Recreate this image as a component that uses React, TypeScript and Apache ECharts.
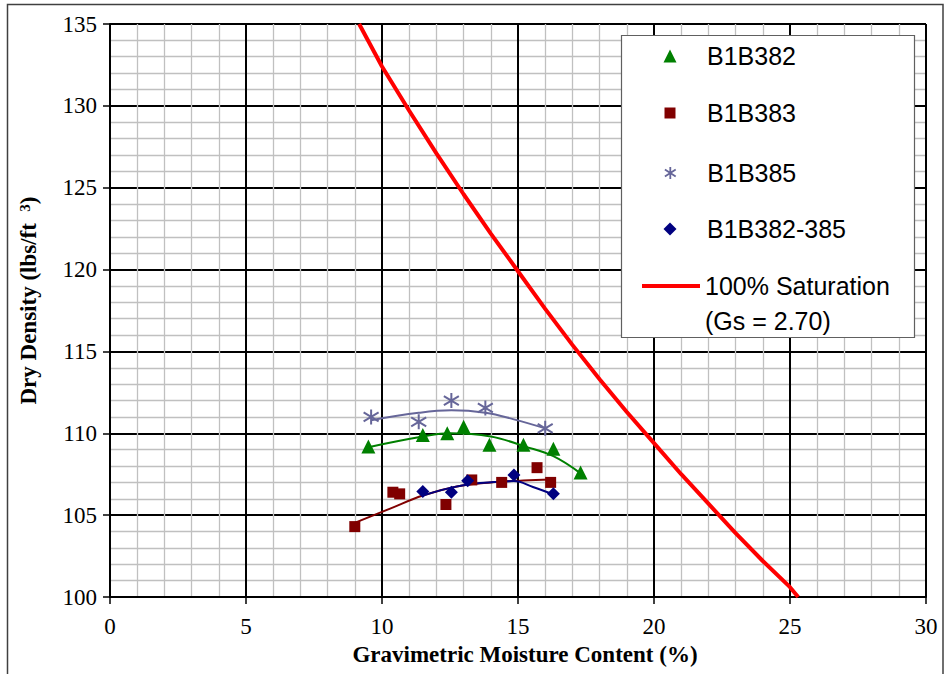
import React, { useEffect, useRef } from "react";
import * as echarts from "echarts";

// ---- data ----
const b382X = [9.5, 11.5, 12.4, 13.0, 13.95, 15.2, 16.3, 17.3];
const b382Y = [109.2, 109.9, 110.0, 110.4, 109.3, 109.3, 109.05, 107.6];
const b382TrendX = [9.5, 11.5, 12.5, 14.0, 15.25, 16.3, 17.3];
const b382TrendY = [109.15, 109.8, 110.0, 109.8, 109.2, 108.6, 107.55];

const b383X = [9.0, 10.4, 10.65, 12.35, 13.3, 14.4, 15.7, 16.2];
const b383Y = [104.3, 106.4, 106.3, 105.65, 107.15, 107.0, 107.9, 107.0];
const b383TrendX = [8.95, 10.3, 11.5, 12.75, 14.0, 15.2, 16.2];
const b383TrendY = [104.5, 105.4, 106.2, 106.75, 107.0, 107.12, 107.18];

const b385X = [9.6, 11.35, 12.55, 13.8, 16.0];
const b385Y = [111.0, 110.7, 112.0, 111.55, 110.3];
const b385TrendX = [9.6, 11.35, 12.55, 13.8, 14.85, 16.0];
const b385TrendY = [110.8, 111.25, 111.4, 111.25, 110.85, 110.3];

const bAllX = [11.5, 12.55, 13.15, 14.85, 16.3];
const bAllY = [106.45, 106.4, 107.1, 107.45, 106.3];
const bAllTrendX = [11.5, 12.55, 13.35, 14.1, 14.85, 15.55, 16.3];
const bAllTrendY = [106.2, 106.68, 106.92, 107.02, 107.08, 106.72, 106.27];

const satX = [9.16, 10, 11, 12, 13, 14, 15, 16, 17, 18, 19, 20, 21, 22, 23, 24, 25, 25.3];
const satY = [135, 132.4, 129.7, 127.1, 124.6, 122.2, 119.9, 117.6, 115.4, 113.3, 111.3, 109.4, 107.5, 105.7, 103.9, 102.2, 100.6, 100.0];

const seriesNames = ["B1B382", "B1B383", "B1B385", "B1B382-385", "100% Saturation (Gs = 2.70)"];
const xAxisTitle = "Gravimetric Moisture Content (%)";

const zip = (xs: number[], ys: number[]) => xs.map((x, i) => [x, ys[i]]);

const SERIF = "'Liberation Serif', 'Times New Roman', serif";
const SANS = "'Liberation Sans', Arial, sans-serif";
const ASTERISK = "path://M5,0L5,10M0.5,2L9.5,8M0.5,8L9.5,2";

export default function App() {
  const ref = useRef<HTMLDivElement>(null);
  useEffect(() => {
    if (!ref.current) return;
    const chart = echarts.init(ref.current, null, { renderer: "svg" });
    const symText = { fontFamily: SANS, fontSize: 25, color: "#000", lineHeight: 26 };
    const symLegend = (name: string, size: number, top: number, extra: any = {}) => ({
      orient: "vertical",
      left: 670 - size / 2,
      top,
      itemWidth: size,
      itemHeight: size,
      padding: 0,
      selectedMode: false,
      z: 8,
      data: [name],
      textStyle: { ...symText, padding: [0, 0, 6, 707 - (670 + size / 2) - 5] },
      ...extra,
    });
    const trend = (name: string, xs: number[], ys: number[], color: string) => ({
      name,
      type: "line",
      data: zip(xs, ys),
      smooth: 0.4,
      showSymbol: false,
      lineStyle: { color, width: 2 },
      z: 2,
      silent: true,
    });
    chart.setOption({
      animation: false,
      backgroundColor: "#fff",
      grid: { left: 110, top: 24, width: 816, height: 573 },
      xAxis: {
        type: "value",
        min: 0,
        max: 30,
        interval: 5,
        name: xAxisTitle,
        nameLocation: "middle",
        nameGap: 45,
        nameTextStyle: { fontFamily: SERIF, fontWeight: "bold", fontSize: 23, color: "#000", padding: [0, 0, 0, 14] },
        axisLine: { show: true, onZero: false, lineStyle: { color: "#000", width: 2 } },
        axisTick: { show: true, inside: false, length: 7, lineStyle: { color: "#000", width: 1.5 } },
        axisLabel: { fontFamily: SERIF, fontSize: 23, color: "#000", margin: 18 },
        splitLine: { show: true, lineStyle: { color: "#000", width: 2 } },
        minorTick: { show: false, splitNumber: 5 },
        minorSplitLine: { show: true, lineStyle: { color: "#c0c0c0", width: 1.3 } },
      },
      yAxis: {
        type: "value",
        min: 100,
        max: 135,
        interval: 5,
        name: "{a|Dry Density (lbs/ft  }{s|3}{a|)}",
        nameLocation: "middle",
        nameGap: 70,
        nameTextStyle: {
          fontFamily: SERIF,
          fontWeight: "bold",
          fontSize: 23,
          color: "#000",
          padding: [0, 0, 0, 20],
          rich: {
            a: { fontFamily: SERIF, fontWeight: "bold", fontSize: 23, color: "#000" },
            s: { fontFamily: SERIF, fontWeight: "bold", fontSize: 15, color: "#000", verticalAlign: "top" },
          },
        },
        axisLine: { show: true, onZero: false, lineStyle: { color: "#000", width: 2 } },
        axisTick: { show: true, inside: false, length: 7, lineStyle: { color: "#000", width: 1.5 } },
        axisLabel: { fontFamily: SERIF, fontSize: 23, color: "#000", margin: 13 },
        splitLine: { show: true, lineStyle: { color: "#000", width: 2 } },
        minorTick: { show: false, splitNumber: 5 },
        minorSplitLine: { show: true, lineStyle: { color: "#c0c0c0", width: 1.3 } },
      },
      legend: [
        symLegend(seriesNames[0], 13, 40),
        symLegend(seriesNames[1], 11, 97),
        symLegend(seriesNames[2], 12, 157, {
          itemStyle: { color: "rgba(0,0,0,0)", borderColor: "#666699", borderWidth: 1.8, opacity: 1 },
        }),
        symLegend(seriesNames[3], 13, 213),
        {
          orient: "vertical",
          left: 642,
          top: 229.5,
          itemWidth: 58,
          itemHeight: 4,
          icon: "rect",
          padding: 0,
          selectedMode: false,
          z: 8,
          data: [seriesNames[4]],
          formatter: () => " \n100% Saturation\n(Gs = 2.70)",
          textStyle: { fontFamily: SANS, fontSize: 25, color: "#000", lineHeight: 35, padding: [0, 0, 8, 0] },
        },
      ],
      graphic: [
        {
          type: "rect",
          z: 0,
          silent: true,
          shape: { x: 7.5, y: 4.5, width: 935.5, height: 690 },
          style: { fill: "none", stroke: "#404040", lineWidth: 1.5 },
        },
        {
          type: "rect",
          z: 6,
          silent: true,
          shape: { x: 621.5, y: 35.5, width: 293, height: 302 },
          style: { fill: "#fff", stroke: "#606060", lineWidth: 1.2 },
        },
      ],
      series: [
        trend("t382", b382TrendX, b382TrendY, "#008000"),
        trend("t383", b383TrendX, b383TrendY, "#800000"),
        trend("t385", b385TrendX, b385TrendY, "#666699"),
        trend("tAll", bAllTrendX, bAllTrendY, "#000080"),
        {
          name: seriesNames[4],
          type: "line",
          data: zip(satX, satY),
          showSymbol: false,
          symbol: "none",
          lineStyle: { color: "#ff0000", width: 4 },
          itemStyle: { color: "#ff0000" },
          clip: true,
          z: 3,
        },
        {
          name: seriesNames[0],
          type: "scatter",
          data: zip(b382X, b382Y),
          symbol: "triangle",
          symbolSize: 14,
          itemStyle: { color: "#008000", opacity: 1 },
          z: 4,
        },
        {
          name: seriesNames[1],
          type: "scatter",
          data: zip(b383X, b383Y),
          symbol: "rect",
          symbolSize: 11,
          itemStyle: { color: "#800000", opacity: 1 },
          z: 4,
        },
        {
          name: seriesNames[2],
          type: "scatter",
          data: zip(b385X, b385Y),
          symbol: ASTERISK,
          symbolSize: 15,
          itemStyle: { color: "rgba(0,0,0,0)", borderColor: "#666699", borderWidth: 2, opacity: 1 },
          z: 4,
        },
        {
          name: seriesNames[3],
          type: "scatter",
          data: zip(bAllX, bAllY),
          symbol: "diamond",
          symbolSize: 13,
          itemStyle: { color: "#000080", opacity: 1 },
          z: 4,
        },
      ],
    });
    return () => chart.dispose();
  }, []);
  return (
    <div
      ref={ref}
      style={{ position: "fixed", left: 0, top: 0, width: 947, height: 674, background: "#fff" }}
    />
  );
}
